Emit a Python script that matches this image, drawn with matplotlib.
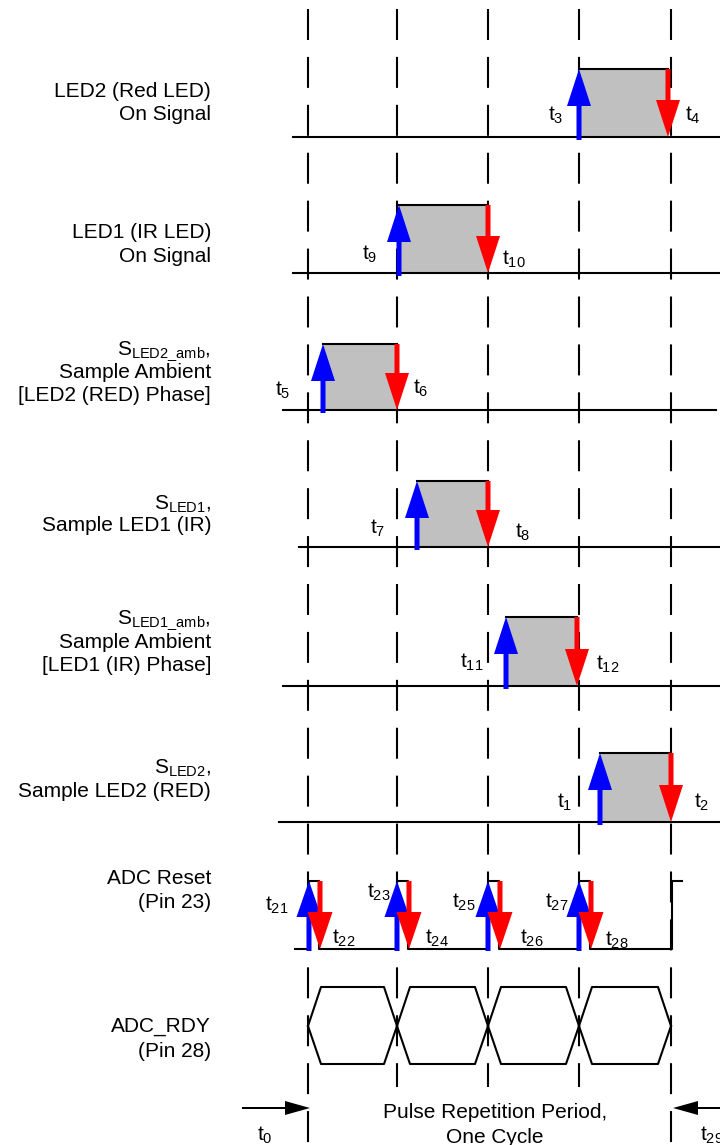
import matplotlib
matplotlib.use("Agg")
import matplotlib.pyplot as plt
from matplotlib.patches import Rectangle

plt.rcParams['font.family'] = ['Liberation Sans', 'DejaVu Sans']
plt.rcParams['mathtext.fontset'] = 'custom'
plt.rcParams['mathtext.rm'] = 'Liberation Sans'
plt.rcParams['mathtext.it'] = 'Liberation Sans'
plt.rcParams['mathtext.bf'] = 'Liberation Sans:bold'
plt.rcParams['lines.scale_dashes'] = False

# ---------------- data ----------------
# cycle boundaries (time axis, px-scaled)
cycle_edges = [308, 397, 488, 579, 671]

# pulse signals: name lines, low level, high level, rise time, fall time, trace start/end
sig_labels = [
    ["LED2 (Red LED)", "On Signal"],
    ["LED1 (IR LED)", "On Signal"],
    [r"$\mathregular{S_{LED2\_amb}}$,", "Sample Ambient", "[LED2 (RED) Phase]"],
    [r"$\mathregular{S_{LED1}}$,", "Sample LED1 (IR)"],
    [r"$\mathregular{S_{LED1\_amb}}$,", "Sample Ambient", "[LED1 (IR) Phase]"],
    [r"$\mathregular{S_{LED2}}$,", "Sample LED2 (RED)"],
]
sig_low = [137, 273, 410, 547, 686, 822]
sig_high = [69, 205, 344, 481, 617, 753]
sig_rise = [579, 399, 323, 417, 506, 600]
sig_fall = [668, 488, 397, 488, 577, 671]
sig_start = [293, 293, 283, 299, 283, 279]
sig_end = [720, 720, 716, 720, 720, 720]
sig_rise_name = ["t3", "t9", "t5", "t7", "t11", "t1"]
sig_fall_name = ["t4", "t10", "t6", "t8", "t12", "t2"]

# ADC reset
reset_labels = ["ADC Reset", "(Pin 23)"]
reset_low, reset_high = 949, 881
reset_rise = [309, 397, 488, 579, 672]
reset_fall = [319, 408, 499, 590, 682]
reset_start = 295
reset_rise_name = ["t21", "t23", "t25", "t27"]
reset_fall_name = ["t22", "t24", "t26", "t28"]

# ADC ready
rdy_labels = ["ADC_RDY", "(Pin 28)"]
rdy_top, rdy_mid, rdy_bot = 987, 1026, 1064

period_text = ["Pulse Repetition Period,", "One Cycle"]
period_start_name, period_end_name = "t0", "t29"

# ---------------- layout ----------------
FS = 15
label_x = 211
label_baselines = [[97, 120], [238, 262], [355, 378, 401], [510, 531],
                   [624, 648, 671], [774, 797]]
reset_label_baselines = [884, 908]
rdy_label_baselines = [1032, 1057]
rise_label_pos = [(548, 115), (362, 254), (275, 390), (370, 528), (460, 662), (557, 802)]
fall_label_pos = [(685, 115), (502, 259), (413, 388), (515, 532), (596, 664), (694, 802)]
reset_rise_pos = [(265, 905), (367, 892), (452, 902), (545, 902)]
reset_fall_pos = [(332, 938), (425, 938), (520, 938), (605, 940)]

BLUE = '#0000FF'
RED = '#FF0000'
GRAY = '#C0C0C0'
LW = 1.5

def sub(name):
    return r"$\mathregular{t_{%s}}$" % name[1:]

fig = plt.figure(figsize=(7.2, 11.45), dpi=100)
ax = fig.add_axes([0, 0, 1, 1])
ax.set_xlim(0, 720)
ax.set_ylim(1145, 0)
ax.axis('off')

# dashed cycle lines (inner ones stop above the period caption)
for k, e in enumerate(cycle_edges):
    outer = k in (0, len(cycle_edges) - 1)
    y_end = 1145 if outer else 1087
    ax.plot([e, e], [9, y_end], color='black', lw=LW,
            linestyle=(0, (22.3, 12.2)), zorder=1, solid_capstyle='butt',
            dash_capstyle='butt')

def up_arrow(x, y0, y1, hl=37, hw=24):
    ax.arrow(x, y0, 0, y1 - y0, width=5, head_width=hw, head_length=hl,
             length_includes_head=True, color=BLUE, lw=0, zorder=5)

def down_arrow(x, y0, y1, hl=37, hw=24):
    ax.arrow(x, y0, 0, y1 - y0, width=5, head_width=hw, head_length=hl,
             length_includes_head=True, color=RED, lw=0, zorder=5)

# pulse signals
for i in range(len(sig_low)):
    lo, hi, r, f = sig_low[i], sig_high[i], sig_rise[i], sig_fall[i]
    ax.add_patch(Rectangle((r, hi), f - r, lo - hi, facecolor=GRAY,
                           edgecolor='none', zorder=2))
    ax.plot([r, f], [hi, hi], color='black', lw=LW, zorder=3)
    ax.plot([sig_start[i], sig_end[i]], [lo, lo], color='black', lw=LW, zorder=3)
    up_arrow(r, lo + 3, hi)
    down_arrow(f, hi, lo)
    for txt, yb in zip(sig_labels[i], label_baselines[i]):
        ax.text(label_x, yb, txt, ha='right', va='baseline', fontsize=FS)
    x, y = rise_label_pos[i]
    ax.text(x, y, sub(sig_rise_name[i]), ha='left', va='center', fontsize=FS)
    x, y = fall_label_pos[i]
    ax.text(x, y, sub(sig_fall_name[i]), ha='left', va='center', fontsize=FS)

# ADC reset waveform
xs = [reset_start]
ys = [reset_low]
for k, r in enumerate(reset_rise):
    xs += [r, r, reset_fall[k]]
    ys += [reset_low, reset_high, reset_high]
    if k < len(reset_rise) - 1:
        xs += [reset_fall[k]]
        ys += [reset_low]
ax.plot(xs, ys, color='black', lw=LW, zorder=3)
for k in range(4):
    up_arrow(reset_rise[k], reset_low + 2, reset_high, hl=36, hw=25)
    down_arrow(reset_fall[k] + 1, reset_high, reset_low, hl=37, hw=25)
    x, y = reset_rise_pos[k]
    ax.text(x, y, sub(reset_rise_name[k]), ha='left', va='center', fontsize=FS)
    x, y = reset_fall_pos[k]
    ax.text(x, y, sub(reset_fall_name[k]), ha='left', va='center', fontsize=FS)
for txt, yb in zip(reset_labels, reset_label_baselines):
    ax.text(label_x, yb, txt, ha='right', va='baseline', fontsize=FS)

# ADC ready eye pattern
d = 13
for a, b in zip(cycle_edges[:-1], cycle_edges[1:]):
    ax.plot([a, a + d, b - d, b], [rdy_mid, rdy_top, rdy_top, rdy_mid],
            color='black', lw=LW, zorder=3)
    ax.plot([a, a + d, b - d, b], [rdy_mid, rdy_bot, rdy_bot, rdy_mid],
            color='black', lw=LW, zorder=3)
for txt, yb in zip(rdy_labels, rdy_label_baselines):
    ax.text(label_x, yb, txt, ha='right', va='baseline', fontsize=FS)

# period arrows
ya = 1108
ax.arrow(242, ya, cycle_edges[0] + 2 - 242, 0, width=2, head_width=14,
         head_length=25, length_includes_head=True, color='black', lw=0, zorder=4)
ax.arrow(722, ya, cycle_edges[-1] + 2 - 722, 0, width=2, head_width=14,
         head_length=25, length_includes_head=True, color='black', lw=0, zorder=4)
ax.text(257, 1135, sub(period_start_name), ha='left', va='center', fontsize=FS)
ax.text(700, 1135, sub(period_end_name), ha='left', va='center', fontsize=FS)
ax.text(495, 1118, period_text[0], ha='center', va='baseline', fontsize=FS)
ax.text(495, 1143, period_text[1], ha='center', va='baseline', fontsize=FS)

fig.savefig("out.png", dpi=100)
